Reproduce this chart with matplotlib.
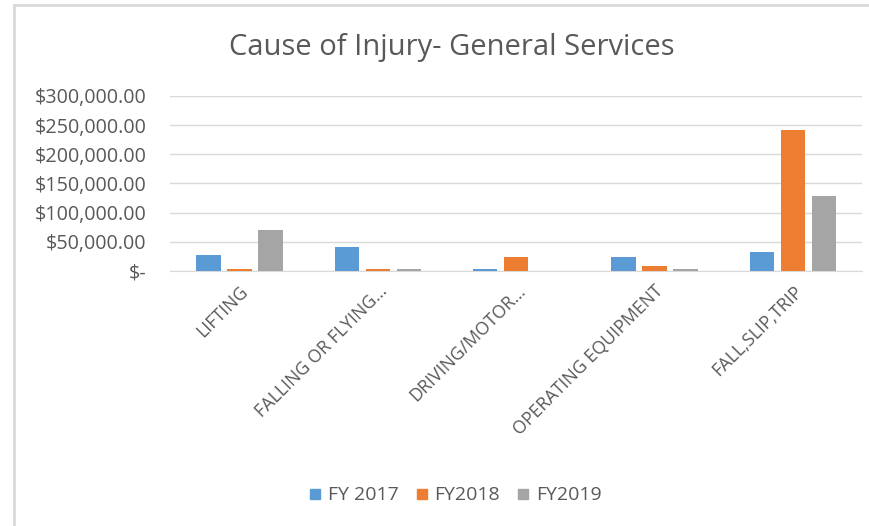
import numpy as np
import matplotlib
matplotlib.use('Agg')
import matplotlib.pyplot as plt
from matplotlib.lines import Line2D

# Data
categories = ['LIFTING', 'FALLING OR FLYING...', 'DRIVING/MOTOR...',
              'OPERATING EQUIPMENT', 'FALL,SLIP,TRIP']
fy2017 = [28000, 41000, 3000, 24000, 32000]
fy2018 = [3000, 3000, 24000, 8500, 242000]
fy2019 = [70000, 3000, 0, 3000, 128000]
series_names = ['FY 2017', 'FY2018', 'FY2019']
colors = ['#5B9BD5', '#ED7D31', '#A5A5A5']
yticks = [0, 50000, 100000, 150000, 200000, 250000, 300000]

plt.rcParams['font.family'] = ['Open Sans', 'DejaVu Sans']
txt = '#595959'

fig = plt.figure(figsize=(8.69, 5.26), dpi=100)
ax = fig.add_axes([0.196, 0.485, 0.796, 0.3325])

x = np.arange(len(categories))
w = 0.175
step = 0.224
for i, (vals, c) in enumerate(zip([fy2017, fy2018, fy2019], colors)):
    ax.bar(x + (i - 1) * step, vals, width=w, color=c, linewidth=0, zorder=3)

ax.set_xlim(-0.5, len(categories) - 0.5)
ax.set_ylim(0, 300000)
ax.set_yticks(yticks)
ax.set_yticklabels(['$-' if v == 0 else f'${v:,.2f}' for v in yticks],
                   fontsize=14.2, color=txt)
ax.grid(axis='y', color='#D9D9D9', linewidth=1, zorder=0)
for s in ['top', 'right', 'left']:
    ax.spines[s].set_visible(False)
ax.spines['bottom'].set_color('#D9D9D9')
ax.tick_params(axis='both', length=0)
ax.tick_params(axis='y', pad=17)
ax.set_xticks(x)
ax.set_xticklabels(categories, rotation=45, ha='right', rotation_mode='anchor',
                   fontsize=12.8, color=txt)
ax.tick_params(axis='x', pad=8)

fig.text(0.52, 0.91, 'Cause of Injury- General Services', ha='center',
         va='center', fontsize=21, color=txt)

handles = [Line2D([], [], marker='s', linestyle='', markersize=7.5,
                  markerfacecolor=c, markeredgecolor=c) for c in colors]
fig.legend(handles, series_names, loc='center', bbox_to_anchor=(0.523, 0.058),
           ncol=3, frameon=False, fontsize=14, labelcolor=txt,
           handlelength=0.8, handletextpad=0.25, columnspacing=0.8)

# chart frame
fig.add_artist(Line2D([0.016, 0.016], [0, 0.99], color='#D9D9D9', lw=2,
                      transform=fig.transFigure))
fig.add_artist(Line2D([0.016, 1], [0.99, 0.99], color='#D9D9D9', lw=2,
                      transform=fig.transFigure))

fig.savefig('out.png', dpi=100)
